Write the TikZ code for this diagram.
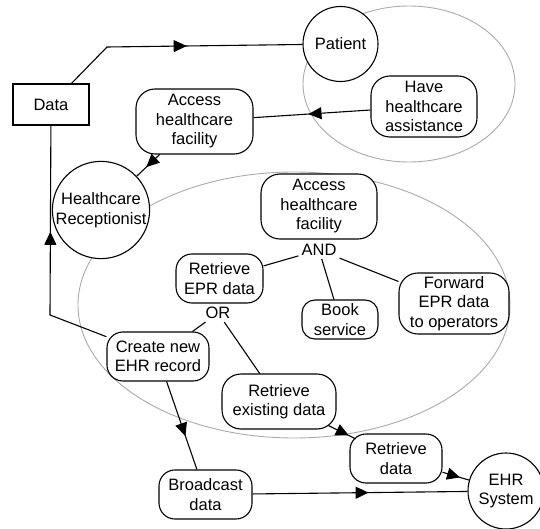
\documentclass[tikz,border=0pt]{standalone}
\usepackage{fontspec}
\setmainfont{Liberation Sans}
\usetikzlibrary{arrows.meta,decorations.markings}

\begin{document}
\begin{tikzpicture}[x=1pt,y=-1pt,
  every node/.style={font=\fontsize{16.5}{19.5}\selectfont, align=center, inner sep=0pt},
  proc/.style={draw, fill=white, rounded corners=19pt, line width=1.1pt},
  actor/.style={draw, fill=white, circle, line width=1.1pt, minimum size=76pt},
  store/.style={draw, fill=white, rectangle, line width=1.1pt, minimum width=76pt, minimum height=41pt},
  gate/.style={inner sep=3pt},
  group/.style={draw=black!33, line width=0.9pt},
  link/.style={draw, line width=1.1pt},
  flowat/.style={link, postaction={decorate},
    decoration={markings, mark=at position #1 with {\arrow{Triangle[length=13pt,width=12pt]}}}}]

\useasboundingbox[fill=white] (0,0) rectangle (540,529);

% groupings
\draw[group] (409,84) ellipse [x radius=106, y radius=78];
\draw[group] (294,305) ellipse [x radius=216, y radius=133];

% nodes
\node[store] (data) at (51,104.5) {Data};
\node[actor, minimum size=75pt] (patient) at (340.5,44) {Patient};
\node[proc, minimum width=106pt, minimum height=61pt] (assist) at (424,106.5) {Have\\healthcare\\assistance};
\node[proc, minimum width=117pt, minimum height=65pt] (facility) at (194.5,121.5) {Access\\healthcare\\facility};
\node[actor] (recep) at (101,210) {Healthcare\\Receptionist};
\node[proc, minimum width=116pt, minimum height=65pt] (access) at (319,206.5) {Access\\healthcare\\facility};
\node[gate] (and) at (319,250) {AND};
\node[proc, rounded corners=16pt, minimum width=87pt, minimum height=49pt] (epr) at (219.5,278.5) {Retrieve\\EPR data};
\node[gate] (or) at (218,313) {OR};
\node[proc, rounded corners=13pt, minimum width=76pt, minimum height=39pt] (book) at (340,319.5) {Book\\service};
\node[proc, minimum width=110pt, minimum height=61pt] (forward) at (454,303.5) {Forward\\EPR data\\to operators};
\node[proc, rounded corners=16pt, minimum width=102pt, minimum height=49pt] (create) at (158,356.5) {Create new\\EHR record};
\node[proc, minimum width=114pt, minimum height=55pt] (exist) at (279,401.5) {Retrieve\\existing data};
\node[proc, rounded corners=16pt, minimum width=93pt, minimum height=49pt] (broad) at (205.5,494.5) {Broadcast\\data};
\node[proc, rounded corners=16pt, minimum width=92pt, minimum height=49pt] (retr) at (396,458.5) {Retrieve\\data};
\node[actor] (ehr) at (506,491) {EHR\\System};

% bends
\coordinate (bend1) at (107,47);
\coordinate (bend2) at (50,315);

% flows
\draw[flowat=0.53] (data) -- (bend1) -- (patient);
\draw[flowat=0.53] (assist) -- (facility);
\draw[flowat=0.58] (facility) -- (recep);
\draw[flowat=0.575] (create) -- (bend2) -- (data);
\draw[flowat=0.62] (create) -- (broad);
\draw[flowat=0.95, shorten <=-9pt, shorten >=-7pt] (exist) -- (retr);
\draw[flowat=0.66] (retr) -- (ehr);
\draw[flowat=0.54] (broad) -- (ehr);

% decomposition links
\draw[link] (and) -- (epr);
\draw[link] (and) -- (book);
\draw[link] (and) -- (forward);
\draw[link] (or) -- (create);
\draw[link] (or) -- (exist);

\end{tikzpicture}
\end{document}
